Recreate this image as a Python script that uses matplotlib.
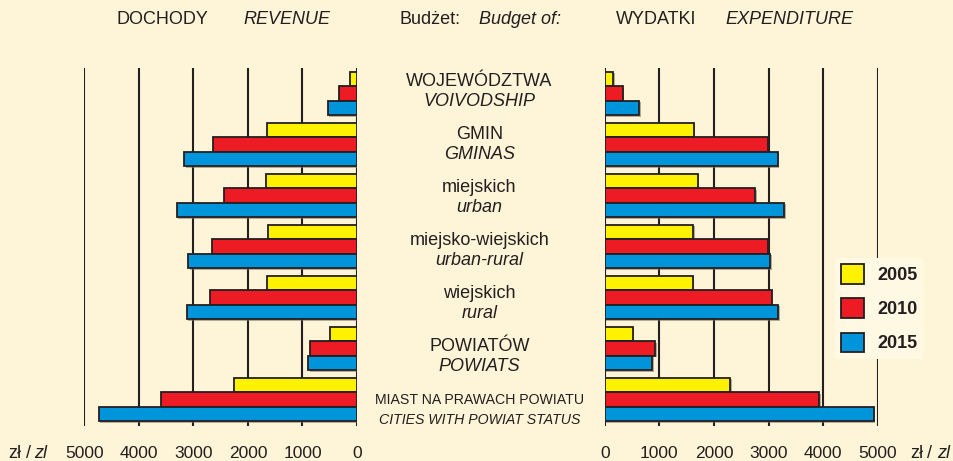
import matplotlib
matplotlib.use("Agg")
import matplotlib.pyplot as plt
import matplotlib.transforms as mtransforms
import matplotlib.patheffects as pe
from matplotlib import font_manager as fm
from matplotlib.patches import Patch

# ---- data ----
categories_pl = ["WOJEWÓDZTWA", "GMIN", "miejskich", "miejsko-wiejskich",
                 "wiejskich", "POWIATÓW", "MIAST NA PRAWACH POWIATU"]
categories_en = ["VOIVODSHIP", "GMINAS", "urban", "urban-rural",
                 "rural", "POWIATS", "CITIES WITH POWIAT STATUS"]
years = ["2005", "2010", "2015"]

revenue_2005 = [130, 1650, 1660, 1640, 1650, 500, 2255]
revenue_2010 = [330, 2640, 2445, 2655, 2700, 865, 3590]
revenue_2015 = [540, 3165, 3300, 3095, 3125, 895, 4730]

expend_2005 = [160, 1630, 1700, 1625, 1615, 520, 2300]
expend_2010 = [335, 2990, 2755, 2990, 3065, 925, 3930]
expend_2015 = [635, 3170, 3290, 3035, 3180, 875, 4930]

ticks = [0, 1000, 2000, 3000, 4000, 5000]
tick_labels = ["0", "1000", "2000", "3000", "4000", "5000"]

# ---- style ----
BG = "#FEF4D7"
LEG_BG = "#FFF8E3"
EDGE = "#231F20"
colors = ["#FFF200", "#ED1C24", "#0095DA"]
TXT = "#231F20"

names = {f.name for f in fm.fontManager.ttflist}
FONT = "Liberation Sans" if "Liberation Sans" in names else "DejaVu Sans"
NARROW = "Liberation Sans Narrow" if "Liberation Sans Narrow" in names else FONT
narrow_size = 13 if NARROW != FONT else 10.2

plt.rcParams["font.family"] = [FONT, "DejaVu Sans"]

W, H = 954, 461
fig = plt.figure(figsize=(W / 100, H / 100), dpi=100)
fig.patch.set_facecolor(BG)

def fx(px):
    return px / W

def fy(py):
    return 1 - py / H

ax_bottom = fy(426)
ax_h = fy(68) - fy(426)
axL = fig.add_axes([fx(84.3), ax_bottom, fx(357) - fx(84.3), ax_h])
axR = fig.add_axes([fx(604.7), ax_bottom, fx(877.7) - fx(604.7), ax_h])

bar_h = 14.5 / 51.0
ylim = (6.52, -0.5)
shadow = [pe.SimplePatchShadow(offset=(1.0, -1.0), shadow_rgbFace="#7a7060", alpha=0.55),
          pe.Normal()]

def draw(ax, series, xlim):
    ax.set_facecolor("none")
    ax.set_xlim(*xlim)
    ax.set_ylim(*ylim)
    for t in ticks:
        ax.axvline(t, color=EDGE, lw=1.5, zorder=1)
    n = len(series[0])
    for b, vals in enumerate(series):
        ys = [g + (b - 1) * bar_h for g in range(n)]
        bars = ax.barh(ys, vals, height=bar_h, color=colors[b], edgecolor=EDGE,
                       linewidth=1.3, zorder=3)
        for p in bars:
            p.set_path_effects(shadow)
    for s in ax.spines.values():
        s.set_visible(False)
    ax.set_xticks([])
    ax.set_yticks([])

draw(axL, [revenue_2005, revenue_2010, revenue_2015], (5000, 0))
draw(axR, [expend_2005, expend_2010, expend_2015], (0, 5000))

# tick labels
tick_y = fy(453)
for ax in (axL, axR):
    tr = mtransforms.blended_transform_factory(ax.transData, fig.transFigure)
    for t, lab in zip(ticks, tick_labels):
        ax.text(t, tick_y, lab, transform=tr, ha="center", va="center",
                fontsize=12.5, color=TXT, clip_on=False)

# unit labels
def unit(x_zl, x_slash, x_it):
    fig.text(fx(x_zl), tick_y, "zł", ha="left", va="center", fontsize=13, color=TXT)
    fig.text(fx(x_slash), tick_y, "/", ha="center", va="center", fontsize=13, color=TXT)
    fig.text(fx(x_it), tick_y, "zl", ha="left", va="center", fontsize=13,
             style="italic", color=TXT)

unit(8, 28.5, 34)
unit(910, 929.5, 937)

# headers
head_y = fy(20)
fig.text(fx(117), head_y, "DOCHODY", ha="left", va="center", fontsize=13, color=TXT)
fig.text(fx(243), head_y, "REVENUE", ha="left", va="center", fontsize=13,
         style="italic", color=TXT)
fig.text(fx(400), head_y, "Budżet:", ha="left", va="center", fontsize=13, color=TXT)
fig.text(fx(479), head_y, "Budget of:", ha="left", va="center", fontsize=13,
         style="italic", color=TXT)
fig.text(fx(616), head_y, "WYDATKI", ha="left", va="center", fontsize=13, color=TXT)
fig.text(fx(725), head_y, "EXPENDITURE", ha="left", va="center", fontsize=13,
         style="italic", color=TXT)

# category labels (centered between the panels)
trC = mtransforms.blended_transform_factory(fig.transFigure, axL.transData)
cx = fx(479.5)
for g, (pl, en) in enumerate(zip(categories_pl, categories_en)):
    y1 = -0.23 + 1.04 * g
    y2 = y1 + 20.0 / 51.0
    last = g == len(categories_pl) - 1
    fam = [NARROW, "DejaVu Sans"] if last else [FONT, "DejaVu Sans"]
    size = narrow_size if last else 13
    axL.text(cx, y1, pl, transform=trC, ha="center", va="center", fontsize=size,
             family=fam, color=TXT, clip_on=False)
    axL.text(cx, y2, en, transform=trC, ha="center", va="center", fontsize=size,
             family=fam, style="italic", color=TXT, clip_on=False)

# legend
handles = [Patch(facecolor=c, edgecolor=EDGE, linewidth=1.3) for c in colors]
leg = axR.legend(handles, years, loc="upper left",
                 bbox_to_anchor=(fx(835), fy(258)), bbox_transform=fig.transFigure,
                 borderaxespad=0, frameon=True, fancybox=False,
                 prop={"family": FONT, "weight": "bold", "size": 13},
                 handlelength=1.27, handleheight=1.27, labelspacing=0.8,
                 handletextpad=0.7, borderpad=0.35)
leg.get_frame().set_facecolor(LEG_BG)
leg.get_frame().set_edgecolor("none")
leg.get_frame().set_alpha(1)
leg.set_zorder(10)
for t in leg.get_texts():
    t.set_color(TXT)

fig.savefig("out.png", dpi=100, facecolor=BG)
